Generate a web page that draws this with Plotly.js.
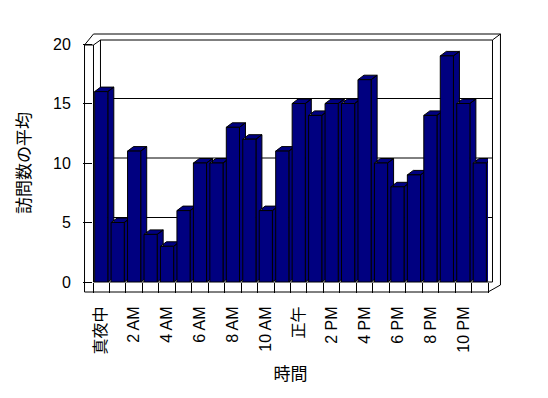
<!DOCTYPE html>
<html>
<head>
<meta charset="utf-8">
<script src="https://cdn.plot.ly/plotly-3.0.1.min.js"></script>
<style>html,body{margin:0;padding:0;background:#fff;}#chart{width:548px;height:398px;}</style>
</head>
<body>
<div id="chart"></div>
<script>
// ---- data ----
const hourLabels = ['真夜中','1 AM','2 AM','3 AM','4 AM','5 AM','6 AM','7 AM','8 AM','9 AM','10 AM','11 AM',
                    '正午','1 PM','2 PM','3 PM','4 PM','5 PM','6 PM','7 PM','8 PM','9 PM','10 PM','11 PM'];
const avgVisits = [16,5,11,4,3,6,10,10,13,12,6,11,15,14,15,15,17,10,8,9,14,19,15,10];
const yTicks = [0,5,10,15,20];
const yTitle = '訪問数の平均';
const xTitle = '時間';

// ---- layout geometry (pixels) ----
const W = 548, H = 398;
const L = 92.5, R = 488.5, T = 44, B = 282;
const PW = R - L, PH = B - T;
const px = v => (v - L) / PW;   // pixel x -> paper
const py = v => (B - v) / PH;   // pixel y -> paper

const xIdx = hourLabels.map((_, i) => i);
const barW = 0.8;
const depthX = 6 / (PW / hourLabels.length);   // side depth in x units
const depthY = 4.5 / (PH / 20);                // top depth in y units

// 3D side + top faces built from the values
const sx = [], sy = [];
avgVisits.forEach((v, i) => {
  const a = i - barW / 2, b = i + barW / 2;
  sx.push(b, b + depthX, b + depthX, b, b, null);
  sy.push(0, depthY, v + depthY, v, 0, null);
  sx.push(a, a + depthX, b + depthX, b, a, null);
  sy.push(v, v + depthY, v + depthY, v, v, null);
});

const navy = '#000080';
const traces = [
  {type: 'scatter', mode: 'lines', x: sx, y: sy, fill: 'toself', fillcolor: navy,
   line: {color: '#000', width: 1}, hoverinfo: 'skip', showlegend: false,
   xaxis: 'x', yaxis: 'y', connectgaps: false},
  {type: 'bar', x: xIdx, y: avgVisits, width: barW,
   marker: {color: navy, line: {color: '#000', width: 1}},
   xaxis: 'x2', yaxis: 'y2', showlegend: false}
];

const seg = (x0, y0, x1, y1) => ({type: 'line', xref: 'paper', yref: 'paper',
  x0: px(x0), y0: py(y0), x1: px(x1), y1: py(y1), line: {color: '#000', width: 1}, layer: 'below'});
const shapes = [
  seg(84, 45, 84, 292), seg(93, 45, 93, 282), seg(84, 45, 93, 45),
  seg(84, 45, 93, 34), seg(93, 45, 100, 40),
  seg(93, 34, 501, 34), seg(100, 40, 493, 40), seg(100, 40, 100, 282),
  seg(493, 40, 493, 282), seg(493, 40, 501, 34), seg(501, 34, 501, 285),
  seg(84, 292, 488.5, 292), seg(93, 282, 493, 282), seg(488.5, 292, 501, 285)
];
yTicks.filter(t => t > 0 && t < 20).forEach(t => {
  const yy = B - t * PH / 20 - 5;
  shapes.push(seg(100, yy, 493, yy));
});

const fontFam = '"Liberation Sans", "Noto Sans CJK JP", sans-serif';
const tickFont = {family: fontFam, size: 16, color: '#000000'};
const tickVals = xIdx.filter(i => i % 2 === 0);
const layout = {
  width: W, height: H,
  margin: {l: L, r: W - R, t: T, b: H - B, pad: 0},
  paper_bgcolor: '#fff', plot_bgcolor: 'rgba(0,0,0,0)',
  font: {family: fontFam, size: 16, color: '#000'},
  showlegend: false,
  xaxis: {range: [-0.5, 23.5], tickmode: 'array', tickvals: tickVals,
          ticktext: tickVals.map(i => hourLabels[i]), tickangle: -90, tickfont: tickFont,
          ticks: 'outside', ticklen: 10, tickcolor: 'rgba(0,0,0,0)', ticklabelstandoff: 7,
          minor: {tickmode: 'array', tickvals: xIdx.concat([hourLabels.length]).map(i => i - 0.5),
                  ticks: 'outside', ticklen: 10, tickcolor: '#000', tickwidth: 1},
          showgrid: false, zeroline: false, showline: false, fixedrange: true,
          automargin: false,
          title: {text: xTitle, font: {family: fontFam, size: 17, color: '#000'}, standoff: 14}},
  yaxis: {range: [0, 20], tickmode: 'array', tickvals: yTicks, tickfont: tickFont,
          ticks: 'outside', ticklen: 9, tickcolor: '#000', tickwidth: 1, ticklabelstandoff: 9,
          showgrid: false, zeroline: false, showline: false, fixedrange: true,
          automargin: false,
          title: {text: yTitle, font: {family: fontFam, size: 17, color: '#000'}, standoff: 18}},
  xaxis2: {range: [-0.5, 23.5], overlaying: 'x', visible: false, fixedrange: true},
  yaxis2: {range: [0, 20], overlaying: 'y', visible: false, fixedrange: true},
  shapes: shapes,
  bargap: 0
};

Plotly.newPlot('chart', traces, layout, {staticPlot: true, displayModeBar: false});
</script>
</body>
</html>
